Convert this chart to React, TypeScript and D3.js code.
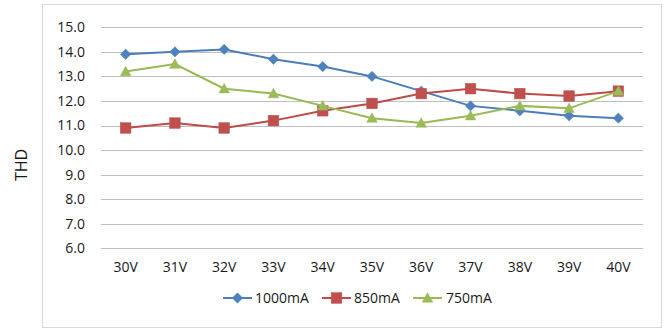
import React from "react";
import * as d3 from "d3";

const categories = ["30V", "31V", "32V", "33V", "34V", "35V", "36V", "37V", "38V", "39V", "40V"];
const s1000 = [13.9, 14.0, 14.1, 13.7, 13.4, 13.0, 12.4, 11.8, 11.6, 11.4, 11.3];
const s850 = [10.9, 11.1, 10.9, 11.2, 11.6, 11.9, 12.3, 12.5, 12.3, 12.2, 12.4];
const s750 = [13.2, 13.5, 12.5, 12.3, 11.8, 11.3, 11.1, 11.4, 11.8, 11.7, 12.4];
const yTicks = [6, 7, 8, 9, 10, 11, 12, 13, 14, 15];
const seriesNames = ["1000mA", "850mA", "750mA"];

const W = 667;
const H = 329;
const FONT = "'Open Sans', 'Noto Sans', sans-serif";

type Shape = "diamond" | "square" | "triangle";

const series = [
  { name: seriesNames[0], values: s1000, line: "#4A7EBB", fill: "#4F81BD", shape: "diamond" as Shape },
  { name: seriesNames[1], values: s850, line: "#BE4B48", fill: "#C0504D", shape: "square" as Shape },
  { name: seriesNames[2], values: s750, line: "#98B954", fill: "#9BBB59", shape: "triangle" as Shape },
];

function Marker({ shape, x, y, fill }: { shape: Shape; x: number; y: number; fill: string }) {
  if (shape === "diamond") {
    const r = 5.2;
    return <path d={`M${x},${y - r}L${x + r},${y}L${x},${y + r}L${x - r},${y}Z`} fill={fill} stroke={fill} strokeWidth={0.5} />;
  }
  if (shape === "square") {
    const r = 5.3;
    return <rect x={x - r} y={y - r} width={2 * r} height={2 * r} fill={fill} stroke={fill} strokeWidth={0.5} />;
  }
  const r = 5.3;
  return <path d={`M${x},${y - r}L${x + r},${y + 4.2}L${x - r},${y + 4.2}Z`} fill={fill} stroke={fill} strokeWidth={0.5} />;
}

export default function App() {
  const x = d3.scaleBand<string>().domain(categories).range([101, 643]);
  const y = d3.scaleLinear().domain([6, 15]).range([248.3, 27.3]);
  const cx = (c: string) => (x(c) as number) + x.bandwidth() / 2;
  const line = d3
    .line<number>()
    .x((_, i) => cx(categories[i]))
    .y((v) => y(v));

  const legendItems = [
    { lx: 223, tx: 255 },
    { lx: 322, tx: 354 },
    { lx: 413, tx: 446 },
  ];

  return (
    <svg width={W} height={H} style={{ position: "absolute", left: 0, top: 0 }} fontFamily={FONT}>
      <rect x={0} y={0} width={W} height={H} fill="#fff" />
      <rect x={42.5} y={4.5} width={619} height={323} fill="#fff" stroke="#D9D9D9" strokeWidth={1} />
      {yTicks.map((t) => (
        <g key={t}>
          <line x1={101} x2={643} y1={Math.round(y(t)) + 0.5} y2={Math.round(y(t)) + 0.5} stroke="#BFBFBF" strokeWidth={1} />
          <text x={85} y={y(t)} dy="0.35em" textAnchor="end" fontSize={14} fill="#1a1a1a">
            {t.toFixed(1)}
          </text>
        </g>
      ))}
      {categories.map((c) => (
        <text key={c} x={cx(c)} y={267} dy="0.35em" textAnchor="middle" fontSize={14} fill="#1a1a1a">
          {c}
        </text>
      ))}
      <text transform={`translate(21,165) rotate(-90)`} textAnchor="middle" dy="0.35em" fontSize={16} fill="#1a1a1a">
        THD
      </text>
      {series.map((s) => (
        <g key={s.name}>
          <path d={line(s.values) || ""} fill="none" stroke={s.line} strokeWidth={2} />
          {s.values.map((v, i) => (
            <Marker key={i} shape={s.shape} x={cx(categories[i])} y={y(v)} fill={s.fill} />
          ))}
        </g>
      ))}
      {series.map((s, i) => {
        const it = legendItems[i];
        return (
          <g key={s.name}>
            <line x1={it.lx} x2={it.lx + 29} y1={298} y2={298} stroke={s.line} strokeWidth={2} />
            <Marker shape={s.shape} x={it.lx + 14.5} y={298} fill={s.fill} />
            <text x={it.tx} y={298} dy="0.35em" fontSize={14} fill="#1a1a1a">
              {s.name}
            </text>
          </g>
        );
      })}
    </svg>
  );
}
